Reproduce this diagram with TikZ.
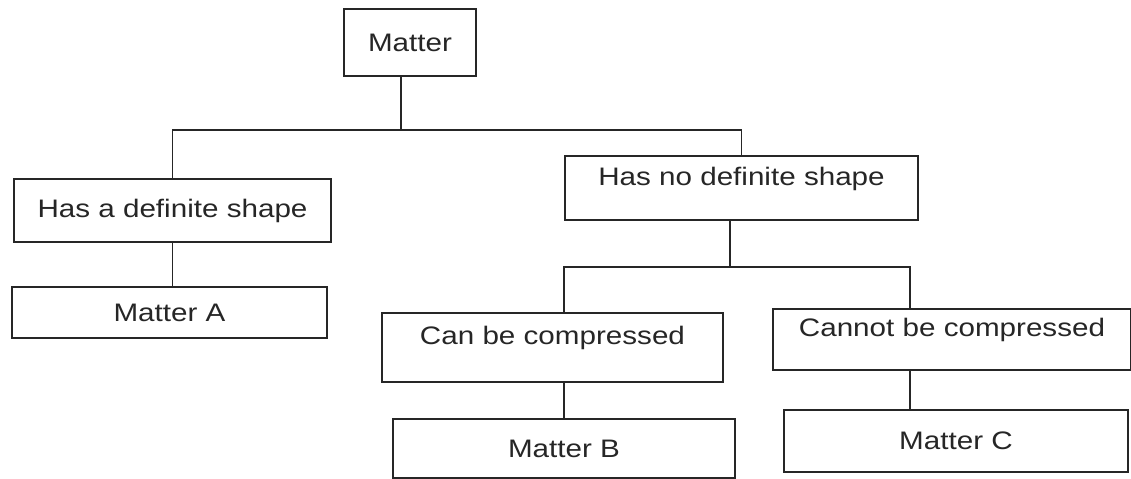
\documentclass[tikz,border=0pt]{standalone}
\usepackage{fontspec}
\setmainfont{Liberation Sans}[FakeStretch=1.17]
\usepackage{tikz}
\usetikzlibrary{positioning}

\begin{document}
\begin{tikzpicture}[
x=0.025cm, y=-0.025cm,
font=\fontsize{18}{20}\selectfont,
box/.style={draw=black!85, line width=1.4pt, text=black!85, inner sep=0pt},
upper/.style={box, text depth=0.6cm},
link/.style={draw=black!85, line width=1.4pt}
]
\useasboundingbox (0,0) rectangle (1131,479);

% Draw boxes
\node[box, minimum width=3.3cm, minimum height=1.675cm] (matter) at (410,42.5) {Matter};
\node[box, minimum width=7.925cm, minimum height=1.575cm] (hads) at (172.5,210.5) {Has a definite shape};
\node[upper, minimum width=8.825cm, minimum height=1.6cm] (hnds) at (741.5,188) {Has no definite shape};
\node[box, minimum width=7.875cm, minimum height=1.275cm] (ma) at (169.5,312.5) {Matter A};
\node[upper, minimum width=8.525cm, minimum height=1.725cm] (cbc) at (552.5,347.5) {Can be compressed};
\node[upper, minimum width=8.95cm, minimum height=1.525cm] (cnbc) at (952,339.5) {Cannot be compressed};
\node[box, minimum width=8.55cm, minimum height=1.475cm] (mb) at (564,448.5) {Matter B};
\node[box, minimum width=8.6cm, minimum height=1.55cm] (mc) at (956,441) {Matter C};

% Junctions
\coordinate (j0) at (401,130);
\coordinate (j1) at (730,267);
\coordinate (j2) at (910,267);

% Draw connectors
\draw[link] (matter.south -| j0) -- (j0);
\draw[link] (hads.north) |- (j0) -| (hnds.north);
\draw[link] (hads.south) -- (ma.north -| hads.south);
\draw[link] (hnds.south -| j1) -- (j1);
\draw[link] (cbc.north -| mb.north) |- (j2) -- (cnbc.north -| j2);
\draw[link] (cbc.south -| mb.north) -- (mb.north);
\draw[link] (cnbc.south -| j2) -- (mc.north -| j2);
\end{tikzpicture}
\end{document}
